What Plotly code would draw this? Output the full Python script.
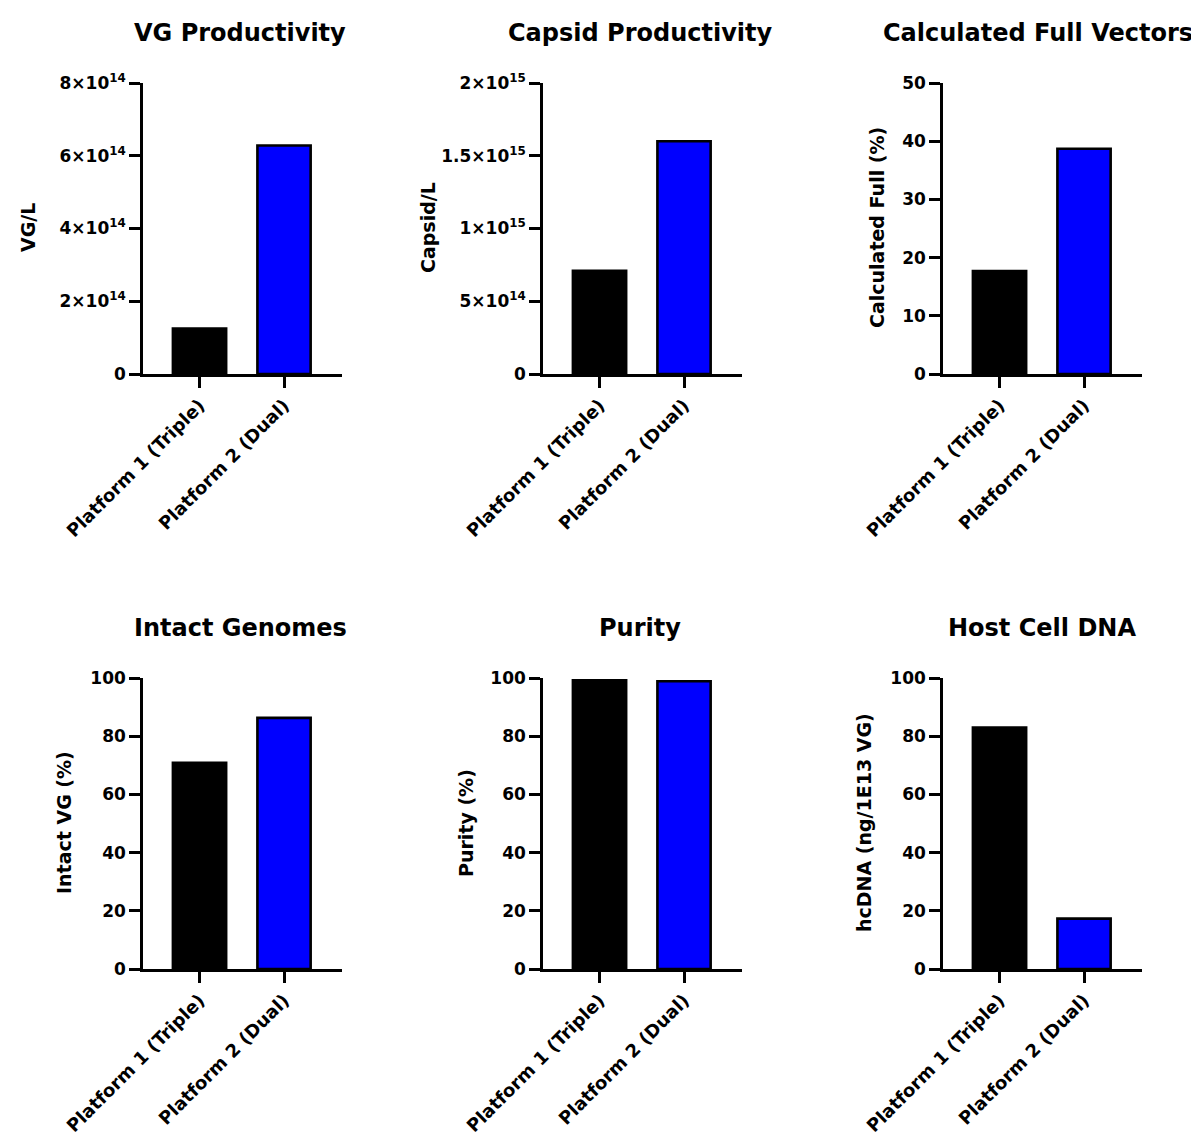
import plotly.graph_objects as go

# the page body has an 8px default margin: compensate so the chart sits where the reference does
OFF = 8
W, H = 1199 - OFF, 1136 - OFF

categories = ["Platform 1 (Triple)", "Platform 2 (Dual)"]
bar_colors = ["#000000", "#0000ff"]

panel_titles = ["VG Productivity", "Capsid Productivity", "Calculated Full Vectors",
                "Intact Genomes", "Purity", "Host Cell DNA"]
y_titles = ["VG/L", "Capsid/L", "Calculated Full (%)",
            "Intact VG (%)", "Purity (%)", "hcDNA (ng/1E13 VG)"]

vg_values = [1.25e14, 6.28e14]
capsid_values = [0.71e15, 1.60e15]
full_values = [17.7, 38.7]
intact_values = [70.9, 86.3]
purity_values = [99.2, 98.9]
hcdna_values = [83.0, 17.3]

vg_tickvals = [0, 2e14, 4e14, 6e14, 8e14]
vg_ticktext = ["0", "2×10<sup>14</sup>", "4×10<sup>14</sup>", "6×10<sup>14</sup>", "8×10<sup>14</sup>"]
capsid_tickvals = [0, 5e14, 1e15, 1.5e15, 2e15]
capsid_ticktext = ["0", "5×10<sup>14</sup>", "1×10<sup>15</sup>", "1.5×10<sup>15</sup>", "2×10<sup>15</sup>"]
full_tickvals = [0, 10, 20, 30, 40, 50]
pct_tickvals = [0, 20, 40, 60, 80, 100]

panels = [
    (vg_values, vg_tickvals, vg_ticktext, 8e14),
    (capsid_values, capsid_tickvals, capsid_ticktext, 2e15),
    (full_values, full_tickvals, [str(v) for v in full_tickvals], 50),
    (intact_values, pct_tickvals, [str(v) for v in pct_tickvals], 100),
    (purity_values, pct_tickvals, [str(v) for v in pct_tickvals], 100),
    (hcdna_values, pct_tickvals, [str(v) for v in pct_tickvals], 100),
]

# layout geometry (pixels in the reference picture)
col_axis_x = [143, 543, 943]
plot_w = 199
row_bottom = [374, 969]
row_top = [83, 678]
title_y = [33, 628]
title_x = [[240, 640, 1038], [240, 640, 1042]]
ytitle_x = [[28, 428, 877], [64, 466, 864]]
ytitle_y = [228, 823]

FONT = "DejaVu Sans"
LW = 2.6


def px(x):
    return (x - OFF) / W


def py(y):
    return 1 - (y - OFF) / H


fig = go.Figure()
annotations = []
layout = dict(
    width=W, height=H,
    margin=dict(l=0, r=0, t=0, b=0, autoexpand=False),
    paper_bgcolor="white", plot_bgcolor="white",
    showlegend=False,
    font=dict(family=FONT, color="black"),
)

for i, (vals, tv, tt, ymax) in enumerate(panels):
    row, col = divmod(i, 3)
    n = i + 1
    xs = "" if n == 1 else str(n)
    x0 = col_axis_x[col]
    x1 = x0 + plot_w
    yb = row_bottom[row]
    yt = row_top[row]

    fig.add_trace(go.Bar(
        x=categories, y=vals,
        marker=dict(color=bar_colors, line=dict(color="black", width=LW)),
        width=0.63,
        xaxis="x" + xs, yaxis="y" + xs,
        hoverinfo="skip",
    ))

    layout["xaxis" + xs] = dict(
        domain=[px(x0), px(x1)],
        anchor="y" + xs,
        automargin=False,
        range=[-0.669, 1.686],
        showline=True, linecolor="black", linewidth=LW,
        ticks="outside", ticklen=11, tickwidth=LW, tickcolor="black",
        tickangle=-45,
        tickfont=dict(family=FONT, size=18, color="black", weight="bold"),
        showgrid=False, zeroline=False, fixedrange=True,
    )
    layout["yaxis" + xs] = dict(
        domain=[py(yb), py(yt)],
        anchor="x" + xs,
        automargin=False,
        range=[0, ymax],
        tickvals=tv, ticktext=tt,
        showline=True, linecolor="black", linewidth=LW,
        ticks="outside", ticklen=11, tickwidth=LW, tickcolor="black",
        tickfont=dict(family=FONT, size=17, color="black", weight="bold"),
        showgrid=False, zeroline=False, fixedrange=True,
    )

    annotations.append(dict(
        text=panel_titles[i], xref="paper", yref="paper",
        x=px(title_x[row][col]), y=py(title_y[row]),
        xanchor="center", yanchor="middle", showarrow=False,
        font=dict(family=FONT, size=24, color="black", weight="bold"),
    ))
    annotations.append(dict(
        text=y_titles[i], xref="paper", yref="paper",
        x=px(ytitle_x[row][col]), y=py(ytitle_y[row]),
        xanchor="center", yanchor="middle", showarrow=False,
        textangle=-90,
        font=dict(family=FONT, size=19, color="black", weight="bold"),
    ))

layout["annotations"] = annotations
fig.update_layout(**layout)
fig.write_html("out.html")
